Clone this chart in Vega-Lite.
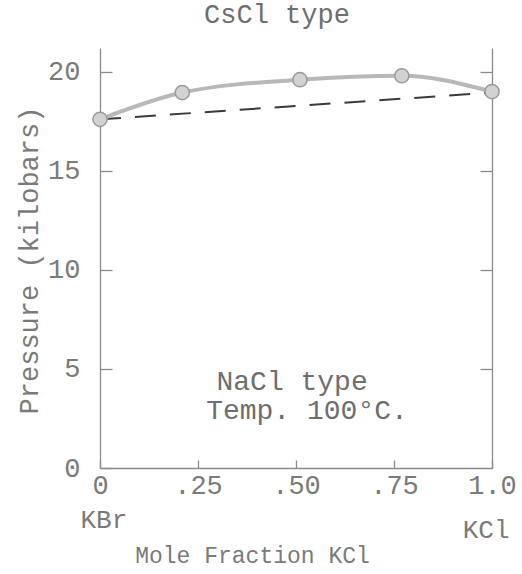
{
  "$schema": "https://vega.github.io/schema/vega-lite/v6.json",
  "width": 392,
  "height": 420,
  "autosize": "none",
  "padding": {"left": 100, "top": 48, "right": 30, "bottom": 106},
  "background": "white",
  "config": {
    "view": {"stroke": null},
    "font": "Liberation Mono",
    "axis": {"grid": false, "domainColor": "#8a8a8a", "tickColor": "#8a8a8a", "labelColor": "#7a7a7a", "titleColor": "#7a7a7a", "labelFont": "Liberation Mono", "titleFont": "Liberation Mono", "titleFontWeight": "normal", "domainWidth": 1.3, "tickWidth": 1.3}
  },
  "title": {"text": "CsCl type", "font": "Liberation Mono", "fontSize": 27, "fontWeight": "normal", "color": "#6e6e6e", "offset": 19, "dx": -19},
  "datasets": {
    "curve": [
      {"x": 0.0, "p": 17.6},
      {"x": 0.21, "p": 18.95},
      {"x": 0.51, "p": 19.6},
      {"x": 0.77, "p": 19.8},
      {"x": 1.0, "p": 19.0}
    ],
    "dashed": [
      {"x": 0.0, "p": 17.6},
      {"x": 1.0, "p": 18.95}
    ],
    "notes": [
      {"x": 0.49, "p": 4.35, "t": "NaCl type"},
      {"x": 0.528, "p": 2.9, "t": "Temp. 100°C."}
    ],
    "ends": [
      {"x": 0.01, "p": -2.6, "t": "KBr"},
      {"x": 0.985, "p": -3.15, "t": "KCl"}
    ]
  },
  "layer": [
    {
      "data": {"name": "dashed"},
      "mark": {"type": "line", "color": "#3a3a3a", "strokeWidth": 2, "strokeDash": [21, 14]},
      "encoding": {
        "x": {"field": "x", "type": "quantitative", "scale": {"domain": [0, 1], "nice": false},
          "axis": {"values": [0, 0.25, 0.5, 0.75, 1], "labelExpr": "datum.value == 0 ? '0' : datum.value == 1 ? '1.0' : replace(format(datum.value, '.2f'), '0.', '.')", "tickSize": -8, "labelPadding": 12, "labelFontSize": 27, "title": "Mole Fraction KCl", "titleFontSize": 23, "titleX": 152, "titleY": 87, "titleBaseline": "middle", "titleAnchor": null, "labelFlush": false}},
        "y": {"field": "p", "type": "quantitative", "scale": {"domain": [0, 21.2], "nice": false, "zero": false},
          "axis": {"values": [0, 5, 10, 15, 20], "tickSize": -12, "labelPadding": 32, "labelFontSize": 27, "title": "Pressure (kilobars)", "titleFontSize": 27, "titleX": -71, "titleY": 212, "titleBaseline": "middle", "titleAnchor": null}}
      }
    },
    {
      "data": {"name": "dashed"},
      "mark": {"type": "point", "opacity": 0},
      "encoding": {
        "x": {"field": "x", "type": "quantitative"},
        "y": {"field": "p", "type": "quantitative", "axis": {"orient": "right", "values": [5, 10, 15, 20], "tickSize": -12, "labels": false, "title": null}}
      }
    },
    {
      "data": {"name": "curve"},
      "mark": {"type": "line", "color": "#b8b8b8", "strokeWidth": 4, "interpolate": "monotone"},
      "encoding": {
        "x": {"field": "x", "type": "quantitative"},
        "y": {"field": "p", "type": "quantitative", "axis": null}
      }
    },
    {
      "data": {"name": "curve"},
      "mark": {"type": "point", "filled": true, "size": 200, "color": "#d2d2d2", "stroke": "#9a9a9a", "strokeWidth": 1.5, "opacity": 1},
      "encoding": {
        "x": {"field": "x", "type": "quantitative"},
        "y": {"field": "p", "type": "quantitative", "axis": null}
      }
    },
    {
      "data": {"name": "notes"},
      "mark": {"type": "text", "fontSize": 28, "color": "#6e6e6e", "baseline": "middle", "align": "center"},
      "encoding": {
        "x": {"field": "x", "type": "quantitative"},
        "y": {"field": "p", "type": "quantitative", "axis": null},
        "text": {"field": "t"}
      }
    },
    {
      "data": {"name": "ends"},
      "mark": {"type": "text", "fontSize": 26, "color": "#7a7a7a", "baseline": "middle", "align": "center"},
      "encoding": {
        "x": {"field": "x", "type": "quantitative"},
        "y": {"field": "p", "type": "quantitative", "axis": null},
        "text": {"field": "t"}
      }
    }
  ],
  "resolve": {"axis": {"y": "independent"}}
}
